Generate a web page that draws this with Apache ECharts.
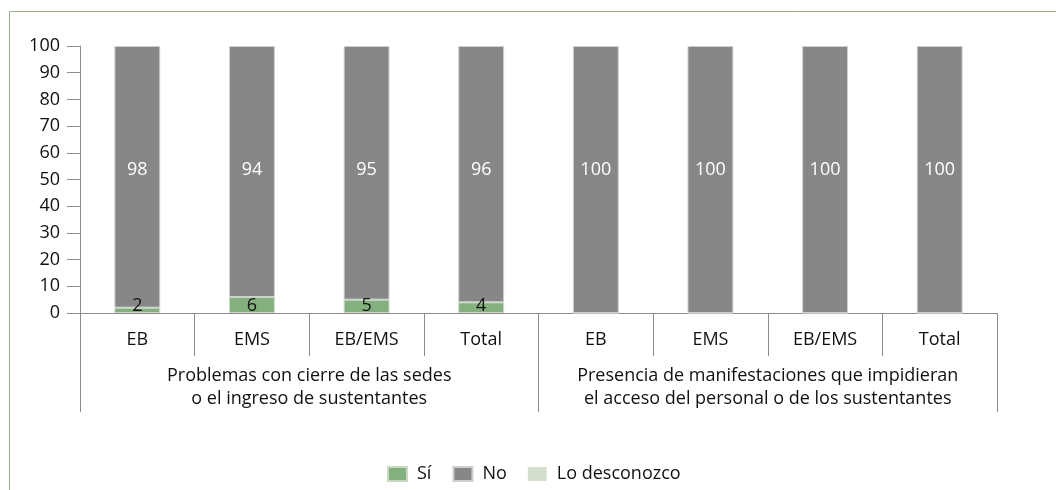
<!DOCTYPE html>
<html>
<head>
<meta charset="utf-8">
<script src="https://cdn.jsdelivr.net/npm/echarts@6/dist/echarts.min.js"></script>
<style>
  html, body { margin: 0; padding: 0; background: #fff; }
  #chart { width: 1056px; height: 490px; }
</style>
</head>
<body>
<div id="chart"></div>
<script>
// categorías y valores (%)
var categories = ['EB', 'EMS', 'EB/EMS', 'Total', 'EB', 'EMS', 'EB/EMS', 'Total'];
var groups = ['Problemas con cierre de las sedes\no el ingreso de sustentantes',
              'Presencia de manifestaciones que impidieran\nel acceso del personal o de los sustentantes'];
var si = [2, 6, 5, 4, 0, 0, 0, 0];
var no = [98, 94, 95, 96, 100, 100, 100, 100];
var desconozco = [0, 0, 0, 0, 0, 0, 0, 0];
var yTicks = [0, 10, 20, 30, 40, 50, 60, 70, 80, 90, 100];

var FONT = 'Open Sans';
var chart = echarts.init(document.getElementById('chart'));

var option = {
    animation: false,
    textStyle: { fontFamily: FONT },
    graphic: [
        { type: 'line', shape: { x1: 9.5, y1: 11.5, x2: 1056, y2: 11.5 }, style: { stroke: '#98ad90', lineWidth: 1 } },
        { type: 'line', shape: { x1: 9.5, y1: 11.5, x2: 9.5, y2: 490 }, style: { stroke: '#98ad90', lineWidth: 1 } }
    ],
    grid: { left: 80, right: 59, top: 46, bottom: 177 },
    legend: {
        left: 382,
        top: 460,
        itemWidth: 19,
        itemHeight: 14,
        itemGap: 21,
        icon: 'rect',
        textStyle: { fontFamily: FONT, fontSize: 18, color: '#111', padding: [0, 0, 0, 5] },
        data: ['Sí', 'No', 'Lo desconozco']
    },
    xAxis: [{
        type: 'category',
        data: categories,
        axisLine: { show: true, lineStyle: { color: '#8c8c8c', width: 1 } },
        axisTick: { show: true, interval: 0, length: 43, lineStyle: { color: '#8c8c8c' } },
        axisLabel: { interval: 0, margin: 18, fontFamily: FONT, fontSize: 18, color: '#111' }
    }, {
        type: 'category',
        data: groups,
        position: 'bottom',
        axisLine: { show: false },
        axisTick: { show: true, interval: 0, length: 99, lineStyle: { color: '#8c8c8c' } },
        axisLabel: { interval: 0, margin: 51, lineHeight: 23, fontFamily: FONT, fontSize: 18, color: '#111' }
    }],
    yAxis: {
        type: 'value',
        min: 0,
        max: 100,
        interval: 10,
        splitLine: { show: false },
        axisLine: { show: true, lineStyle: { color: '#8c8c8c' } },
        axisTick: { show: true, length: 13, lineStyle: { color: '#8c8c8c' } },
        axisLabel: { margin: 20, fontFamily: FONT, fontSize: 18, color: '#111' }
    },
    series: [{
        name: 'Sí',
        type: 'bar',
        stack: 'total',
        barWidth: '40%',
        data: si,
        itemStyle: { color: '#83b07e', borderColor: '#c9d9c4', borderWidth: 1 },
        label: {
            show: true,
            position: 'insideBottom',
            distance: -2,
            color: '#111',
            fontFamily: FONT,
            fontSize: 18,
            formatter: function (p) { return p.value > 0 ? p.value : ''; }
        }
    }, {
        name: 'No',
        type: 'bar',
        stack: 'total',
        data: no,
        itemStyle: { color: '#878787', borderColor: '#cfcfcf', borderWidth: 1 },
        label: {
            show: true,
            position: 'insideTop',
            distance: 115,
            color: '#fff',
            fontFamily: FONT,
            fontSize: 18
        }
    }, {
        name: 'Lo desconozco',
        type: 'bar',
        stack: 'total',
        data: desconozco,
        itemStyle: { color: '#d3dfcc' }
    }]
};

chart.setOption(option);
</script>
</body>
</html>
